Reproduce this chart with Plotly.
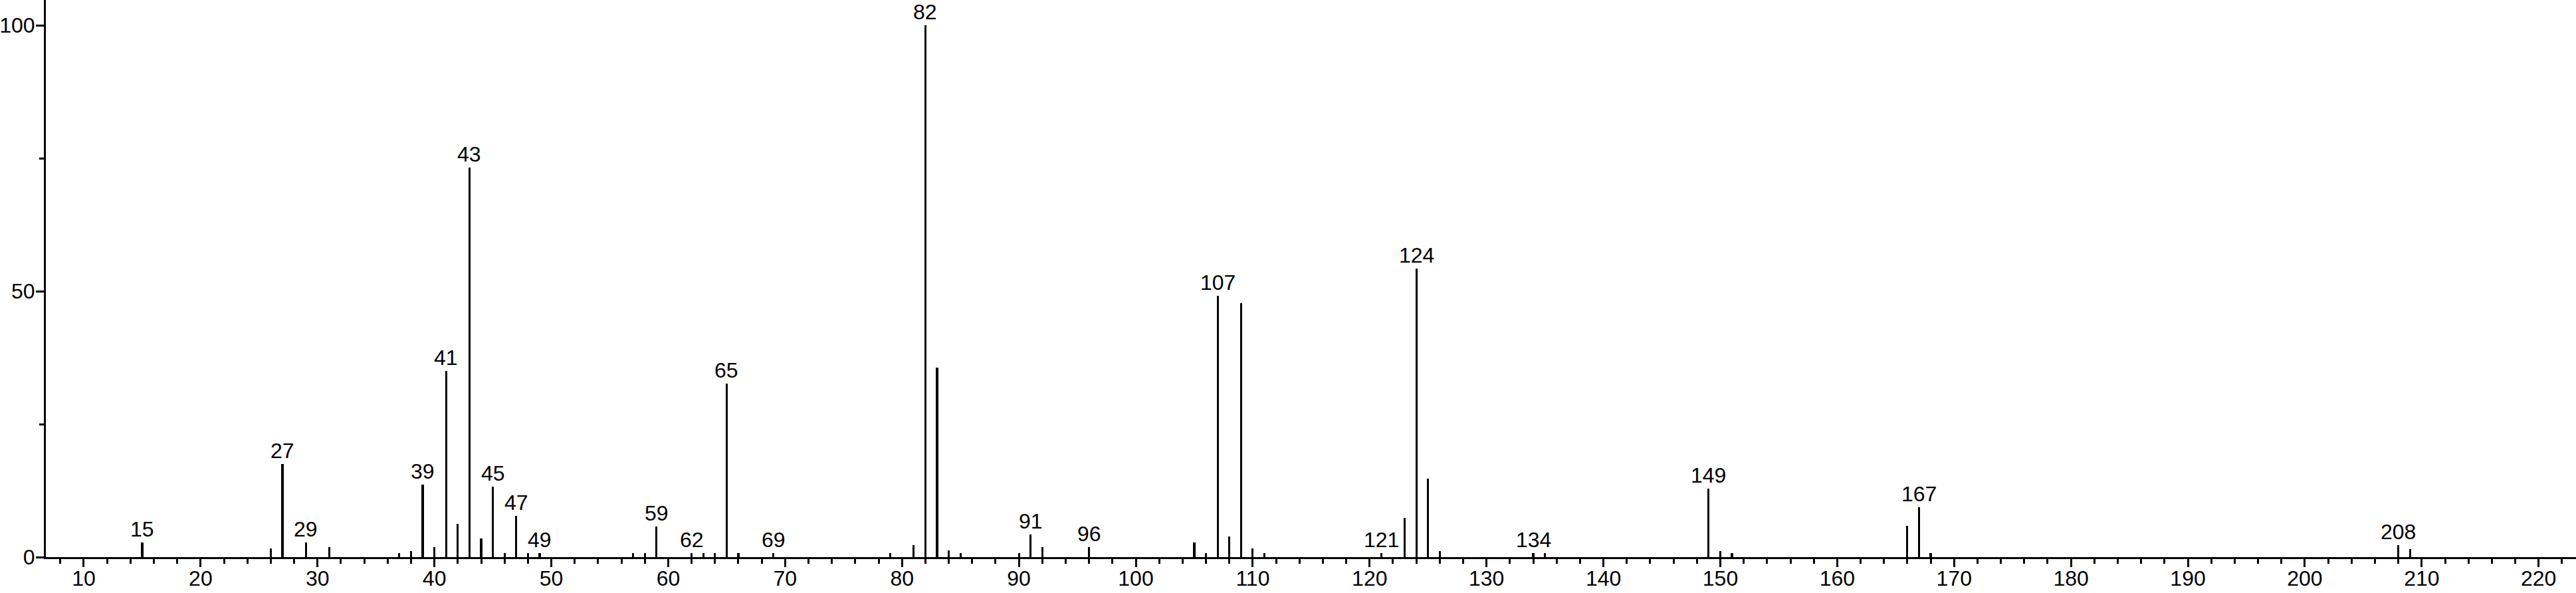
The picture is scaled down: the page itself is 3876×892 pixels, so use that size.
import plotly.graph_objects as go

# m/z values and relative intensities
mz = [15, 26, 27, 29, 31, 37, 38, 39, 40, 41, 42, 43, 44, 45, 46, 47, 48, 49,
      57, 58, 59, 62, 63, 64, 65, 66, 69, 79, 81, 82, 83, 84, 85, 90, 91, 92,
      96, 105, 106, 107, 108, 109, 110, 111, 121, 123, 124, 125, 126, 134, 135,
      149, 150, 151, 166, 167, 168, 208, 209]
intensity = [2.7, 1.6, 17.5, 2.7, 1.9, 0.7, 1.1, 13.6, 1.9, 35.0, 6.2, 73.3, 3.5,
             13.2, 0.7, 7.7, 0.7, 0.7, 0.7, 0.7, 5.8, 0.7, 0.7, 0.7, 32.6, 0.7,
             0.7, 0.7, 2.3, 100.0, 35.6, 1.2, 0.7, 0.7, 4.3, 1.9, 1.9, 2.7, 0.7,
             49.1, 3.9, 47.7, 1.6, 0.7, 0.7, 7.4, 54.3, 14.8, 1.1, 0.7, 0.7,
             12.9, 1.1, 0.7, 5.9, 9.4, 0.7, 2.3, 1.5]
labeled_mz = [15, 27, 29, 39, 41, 43, 45, 47, 49, 59, 62, 65, 69, 82, 91, 96,
              107, 121, 124, 134, 149, 167, 208]
y_ticks = [0, 50, 100]

FONT = "Liberation Sans, Arial, Helvetica, sans-serif"

fig = go.Figure()
fig.add_trace(go.Bar(
    x=mz, y=intensity, width=0.18,
    marker=dict(color="black", line=dict(width=0)),
    hoverinfo="x+y", showlegend=False,
))

lookup = dict(zip(mz, intensity))
for m in labeled_mz:
    fig.add_annotation(
        x=m, y=lookup[m], text=str(m), showarrow=False,
        xanchor="center", yanchor="bottom", yshift=0,
        font=dict(family=FONT, size=32, color="black"),
    )

fig.update_layout(
    width=3876, height=892,
    margin=dict(l=69, r=0, t=0, b=54),
    paper_bgcolor="white", plot_bgcolor="white",
    font=dict(family=FONT, size=32, color="black"),
    bargap=0,
)
fig.update_xaxes(
    range=[6.76, 223.2], tick0=0, dtick=10, automargin=False,
    showline=True, linecolor="black", linewidth=3,
    ticks="outside", ticklen=12, tickwidth=3, tickcolor="black",
    minor=dict(dtick=2, tick0=0, ticks="outside", ticklen=7, tickwidth=2.5,
               tickcolor="black", showgrid=False),
    showgrid=False, zeroline=False,
    tickfont=dict(family=FONT, size=32, color="black"),
    ticklabelstandoff=-10,
)
fig.update_yaxes(
    range=[0, 104.75], tickvals=y_ticks, automargin=False,
    showline=True, linecolor="black", linewidth=3,
    ticks="outside", ticklen=12, tickwidth=3, tickcolor="black",
    minor=dict(dtick=25, tick0=0, ticks="outside", ticklen=7, tickwidth=2.5,
               tickcolor="black", showgrid=False),
    showgrid=False, zeroline=False,
    tickfont=dict(family=FONT, size=32, color="black"),
    ticklabelstandoff=-5,
)

fig.write_html(
    "out.html",
    config={"displayModeBar": False},
    post_script="document.body.style.margin='0';document.body.style.overflow='hidden';",
)
